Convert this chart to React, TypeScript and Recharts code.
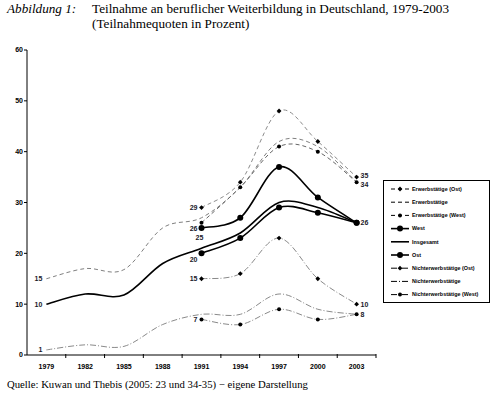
import React from 'react'
import { LineChart, Line, XAxis, YAxis, Legend, LabelList } from 'recharts'

const years = ['1979', '1982', '1985', '1988', '1991', '1994', '1997', '2000', '2003']
const erwOst = [null, null, null, null, 29, 34, 48, 42, 35]
const erwGesamt = [15, 17, 16.8, 25, 27, 33, 42, 41, 34]
const erwWest = [null, null, null, null, 26, 33, 41, 40, 34]
const west = [null, null, null, null, 20, 23, 29, 28, 26]
const insgesamt = [10, 12, 11.8, 18, 21, 24, 30, 29, 26]
const ost = [null, null, null, null, 25, 27, 37, 31, 26]
const nichtOst = [null, null, null, null, 15, 16, 23, 15, 10]
const nichtGesamt = [1, 2, 1.7, 6, 8, 8, 12, 9, 8]
const nichtWest = [null, null, null, null, 7, 6, 9, 7, 8]
const yTicks = [0, 10, 20, 30, 40, 50, 60]

type Mark = 'diamond' | 'circle' | 'big' | 'none'
type LabelPos = 'left' | 'right' | 'rightUp' | 'rightDown' | 'leftLow' | 'below'

interface SeriesDef {
  key: string
  name: string
  values: (number | null)[]
  stroke: string
  width: number
  dash?: string
  mark: Mark
  labels: Record<number, LabelPos>
}

const DASH = '4 3'
const DASHDOT = '6 2 1 2'

const series: SeriesDef[] = [
  { key: 'erwOst', name: 'Erwerbstätige (Ost)', values: erwOst, stroke: '#8c8c8c', width: 1, dash: DASH, mark: 'diamond', labels: { 4: 'left', 8: 'rightUp' } },
  { key: 'erwGesamt', name: 'Erwerbstätige', values: erwGesamt, stroke: '#808080', width: 1, dash: DASH, mark: 'none', labels: { 0: 'left' } },
  { key: 'erwWest', name: 'Erwerbstätige (West)', values: erwWest, stroke: '#666', width: 1, dash: DASH, mark: 'circle', labels: { 4: 'leftLow', 8: 'rightDown' } },
  { key: 'west', name: 'West', values: west, stroke: '#000', width: 1.6, mark: 'big', labels: { 4: 'leftLow', 8: 'right' } },
  { key: 'insgesamt', name: 'Insgesamt', values: insgesamt, stroke: '#000', width: 1.6, mark: 'none', labels: { 0: 'left' } },
  { key: 'ost', name: 'Ost', values: ost, stroke: '#000', width: 1.6, mark: 'big', labels: { 4: 'below' } },
  { key: 'nichtOst', name: 'Nichterwerbstätige (Ost)', values: nichtOst, stroke: '#8a8a8a', width: 1, dash: DASHDOT, mark: 'diamond', labels: { 4: 'left', 8: 'right' } },
  { key: 'nichtGesamt', name: 'Nichterwerbstätige', values: nichtGesamt, stroke: '#8a8a8a', width: 1, dash: DASHDOT, mark: 'none', labels: { 0: 'left' } },
  { key: 'nichtWest', name: 'Nichterwerbstätige (West)', values: nichtWest, stroke: '#8a8a8a', width: 1, dash: DASHDOT, mark: 'circle', labels: { 4: 'left', 8: 'right' } },
]

const data = years.map((year, i) => {
  const row: Record<string, string | number | null> = { year }
  series.forEach((s) => (row[s.key] = s.values[i]))
  return row
})

// layout
const W = 503
const H = 395
const PLOT_LEFT = 27
const PLOT_RIGHT = 376
const PLOT_TOP = 50
const BAND = (PLOT_RIGHT - PLOT_LEFT) / years.length
const SANS = '"Liberation Sans", Arial, sans-serif'
const SERIF = '"Liberation Serif", "Times New Roman", serif'

// Excel-like smoothed line (Catmull-Rom as cubic beziers)
const smoothCurve: any = (context: any) => {
  let pts: number[][] = []
  return {
    areaStart() {},
    areaEnd() {},
    lineStart() {
      pts = []
    },
    point(x: number, y: number) {
      pts.push([+x, +y])
    },
    lineEnd() {
      if (!pts.length) return
      context.moveTo(pts[0][0], pts[0][1])
      const t = 1 / 6
      for (let i = 0; i < pts.length - 1; i++) {
        const p0 = pts[Math.max(0, i - 1)]
        const p1 = pts[i]
        const p2 = pts[i + 1]
        const p3 = pts[Math.min(pts.length - 1, i + 2)]
        context.bezierCurveTo(
          p1[0] + (p2[0] - p0[0]) * t,
          p1[1] + (p2[1] - p0[1]) * t,
          p2[0] - (p3[0] - p1[0]) * t,
          p2[1] - (p3[1] - p1[1]) * t,
          p2[0],
          p2[1]
        )
      }
    },
  }
}

function markShape(mark: Mark, cx: number, cy: number, key?: any) {
  if (mark === 'diamond') {
    return <path key={key} d={`M${cx},${cy - 2.4}L${cx + 2.4},${cy}L${cx},${cy + 2.4}L${cx - 2.4},${cy}Z`} fill="#000" />
  }
  if (mark === 'circle') return <circle key={key} cx={cx} cy={cy} r={2} fill="#000" />
  if (mark === 'big') return <circle key={key} cx={cx} cy={cy} r={3} fill="#000" />
  return <g key={key} />
}

const makeDot = (mark: Mark) => (p: any) => {
  const { cx, cy, index, value } = p
  if (mark === 'none' || cx == null || cy == null || value == null) return <g key={index} />
  return markShape(mark, cx, cy, index)
}

const makeLabel = (labels: Record<number, LabelPos>) => (p: any) => {
  const x = p.x ?? p.viewBox?.x
  const y = p.y ?? p.viewBox?.y
  const pos = labels[p.index]
  if (!pos || p.value == null || x == null || y == null) return null
  let dx = -4
  let dy = 2.5
  let anchor: 'start' | 'middle' | 'end' = 'end'
  if (pos === 'right' || pos === 'rightUp' || pos === 'rightDown') {
    dx = 4
    anchor = 'start'
    if (pos === 'rightUp') dy = 1
    if (pos === 'rightDown') dy = 4.5
  } else if (pos === 'leftLow') {
    dy = 8.5
  } else if (pos === 'below') {
    dx = -2
    dy = 12.5
    anchor = 'middle'
  }
  return (
    <text x={x + dx} y={y + dy} textAnchor={anchor} fontSize={7} fontWeight="bold" fontFamily={SANS} fill="#1a1a2a">
      {p.value}
    </text>
  )
}

const XTick = (p: any) => {
  const { x, y, payload } = p
  return (
    <g>
      <line x1={x + BAND / 2} x2={x + BAND / 2} y1={y - 1} y2={y + 3} stroke="#000" strokeWidth={1} />
      <text x={x} y={y + 14} textAnchor="middle" fontSize={7} fontWeight="bold" fontFamily={SANS} fill="#000">
        {payload.value}
      </text>
    </g>
  )
}

const LegendBox = () => {
  const rowH = 13.2
  return (
    <svg width={107} height={123} style={{ display: 'block' }}>
      <rect x={0.5} y={0.5} width={106} height={122} fill="#fff" stroke="#000" strokeWidth={1} />
      {series.map((s, i) => {
        const cy = 9 + i * rowH
        return (
          <g key={s.key}>
            <line x1={8} x2={26} y1={cy} y2={cy} stroke="#000" strokeWidth={s.width > 1 ? 1.6 : 1} strokeDasharray={s.dash} />
            {markShape(s.mark, 17, cy)}
            <text x={29} y={cy + 1.8} fontSize={5.4} fontWeight="bold" fontFamily={SANS} fill="#000">
              {s.name}
            </text>
          </g>
        )
      })}
    </svg>
  )
}

export default function App() {
  return (
    <div style={{ position: 'absolute', left: 0, top: 0, width: W, height: H, background: '#fff', overflow: 'hidden' }}>
      <div style={{ position: 'absolute', left: 7, top: 1, fontFamily: SERIF, fontSize: 13.2, fontStyle: 'italic', lineHeight: '15px' }}>
        Abbildung 1:
      </div>
      <div style={{ position: 'absolute', left: 92, top: 1, fontFamily: SERIF, fontSize: 13.2, lineHeight: '15px', whiteSpace: 'nowrap' }}>
        Teilnahme an beruflicher Weiterbildung in Deutschland, 1979-2003
        <br />
        (Teilnahmequoten in Prozent)
      </div>
      <LineChart
        width={W}
        height={H}
        data={data}
        margin={{ top: PLOT_TOP, right: W - PLOT_RIGHT, bottom: 20, left: PLOT_LEFT - 20 }}
        style={{ position: 'absolute', left: 0, top: 0 }}
      >
        <XAxis
          dataKey="year"
          height={20}
          padding={{ left: BAND / 2, right: BAND / 2 }}
          axisLine={{ stroke: '#000' }}
          tickLine={false}
          tickSize={0}
          tickMargin={0}
          interval={0}
          tick={<XTick />}
        />
        <YAxis
          width={20}
          domain={[0, 60]}
          ticks={yTicks}
          allowDataOverflow
          axisLine={{ stroke: '#000' }}
          tickLine={{ stroke: '#000' }}
          tickSize={3}
          tickMargin={1}
          tick={{ fontSize: 7, fontWeight: 'bold', fontFamily: SANS, fill: '#000' }}
        />
        <Legend
          layout="vertical"
          align="center"
          verticalAlign="middle"
          width={107}
          height={123}
          wrapperStyle={{ left: 383, top: 180 }}
          content={<LegendBox />}
        />
        {series.map((s) => (
          <Line
            key={s.key}
            dataKey={s.key}
            name={s.name}
            type={smoothCurve}
            stroke={s.stroke}
            strokeWidth={s.width}
            strokeDasharray={s.dash}
            dot={makeDot(s.mark)}
            activeDot={false}
            isAnimationActive={false}
          >
            <LabelList dataKey={s.key} content={makeLabel(s.labels)} />
          </Line>
        ))}
      </LineChart>
      <div style={{ position: 'absolute', left: 7, top: 377, fontFamily: SERIF, fontSize: 10.7, lineHeight: '14px', whiteSpace: 'nowrap' }}>
        Quelle: Kuwan und Thebis (2005: 23 und 34-35) − eigene Darstellung
      </div>
    </div>
  )
}
